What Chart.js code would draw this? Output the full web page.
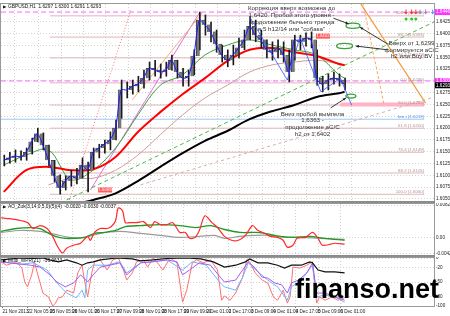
<!DOCTYPE html>
<html>
<head>
<meta charset="utf-8">
<script src="https://cdn.jsdelivr.net/npm/chart.js@4/dist/chart.umd.min.js"></script>
<style>
  html, body { margin: 0; padding: 0; background: #fff; }
  #wrap { position: relative; width: 450px; height: 316px; overflow: hidden; background: #fff; }
  #wrap canvas { position: absolute; left: 0; }
  .sep { position: absolute; left: 0; width: 435px; height: 2px; background: #8c8c8c; }
  #wm { position: absolute; left: 295px; top: 276px; font: bold 27px "Liberation Sans", Arial, sans-serif; line-height: 1; color: #000; }
</style>
</head>
<body>
<div id="wrap">
  <canvas id="main" width="450" height="202" style="top:0"></canvas>
  <canvas id="ao" width="450" height="52" style="top:203px"></canvas>
  <canvas id="wpr" width="450" height="59" style="top:257px"></canvas>
  <div class="sep" style="top:201px"></div>
  <div class="sep" style="top:255px"></div>
  <div id="wm">finanso.net</div>
</div>
<script>
// time axis: H1 bar numbers
const dateTickBars = [1, 19, 35, 51, 67, 83, 99, 115, 131, 147, 163, 179, 195, 211, 227, 243];
const dateTickLabels = ['21 Nov 2013', '22 Nov 05:00', '25 Nov 05:00', '26 Nov 01:00', '26 Nov 17:00',
  '27 Nov 09:00', '28 Nov 01:00', '28 Nov 17:00', '29 Nov 09:00', '2 Dec 01:00', '2 Dec 17:00',
  '3 Dec 09:00', '4 Dec 01:00', '4 Dec 17:00', '5 Dec 09:00', '6 Dec 01:00'];

// price panel, one candle group every 4 bars
const hi = [1.6143,1.6149,1.6154,1.6152,1.6158,1.6179,1.6200,1.6190,1.6164,1.6132,
  1.6101,1.6099,1.6111,1.6115,1.6137,1.6128,1.6158,1.6166,1.6175,1.6192,
  1.6217,1.6302,1.6298,1.6302,1.6310,1.6323,1.6340,1.6344,1.6336,1.6340,
  1.6355,1.6344,1.6327,1.6323,1.6366,1.6446,1.6440,1.6425,1.6408,1.6376,
  1.6366,1.6376,1.6391,1.6408,1.6436,1.6429,1.6408,1.6387,1.6383,1.6387,
  1.6383,1.6366,1.6397,1.6397,1.6402,1.6404,1.6366,1.6310,1.6315,1.6319,
  1.6315,1.6306];
const lo = [1.6120,1.6126,1.6128,1.6132,1.6132,1.6145,1.6171,1.6154,1.6120,1.6086,
  1.6060,1.6069,1.6077,1.6082,1.6094,1.6065,1.6115,1.6137,1.6147,1.6154,
  1.6175,1.6221,1.6264,1.6272,1.6277,1.6285,1.6302,1.6310,1.6306,1.6310,
  1.6323,1.6306,1.6289,1.6289,1.6313,1.6366,1.6397,1.6383,1.6361,1.6340,
  1.6330,1.6334,1.6349,1.6366,1.6387,1.6383,1.6370,1.6349,1.6344,1.6349,
  1.6340,1.6298,1.6344,1.6366,1.6374,1.6370,1.6291,1.6277,1.6281,1.6293,
  1.6289,1.6281];
const close = [1.6132,1.6137,1.6141,1.6139,1.6149,1.6171,1.6188,1.6164,1.6132,1.6099,
  1.6073,1.6088,1.6099,1.6094,1.6122,1.6111,1.6149,1.6158,1.6166,1.6175,
  1.6200,1.6281,1.6281,1.6289,1.6293,1.6306,1.6327,1.6323,1.6319,1.6323,
  1.6344,1.6319,1.6306,1.6310,1.6353,1.6429,1.6419,1.6404,1.6378,1.6355,
  1.6344,1.6355,1.6370,1.6387,1.6416,1.6397,1.6387,1.6366,1.6361,1.6370,
  1.6355,1.6319,1.6387,1.6383,1.6391,1.6387,1.6306,1.6293,1.6302,1.6306,
  1.6302,1.6293];
const candleBars = hi.map((_, i) => i * 4 + 2);

// moving averages
const maBars = [2, 18, 34, 50, 66, 82, 98, 114, 130, 146, 162, 178, 194, 210, 226, 242, 246];
const maRed = [1.6065,1.6111,1.6118,1.6111,1.6113,1.6139,1.6192,1.6234,1.6272,1.6306,1.6342,1.6366,1.6370,1.6361,1.6353,1.6336,1.6334];
const maBlack = [null,null,null,1.6037,1.6048,1.6062,1.6088,1.6118,1.6147,1.6173,1.6194,1.6219,1.6236,1.6249,1.6266,1.6274,1.6277];
const maGreen = [1.6122,1.6143,1.6154,1.6091,1.6111,1.6158,1.6228,1.6291,1.6313,1.6355,1.6376,1.6387,1.6376,1.6366,1.6355,1.6313,1.6306];
const maBrown = [null,null,1.6080,1.6094,1.6094,1.6111,1.6143,1.6186,1.6228,1.6264,1.6291,1.6319,1.6334,1.6340,1.6344,1.6336,1.6334];

// zigzag pivots
const zzBars = [178, 205, 214, 229, 243, 251];
const zzPrices = [1.6436, 1.6302, 1.6393, 1.6277, 1.6306, 1.6249];

// levels
const priceTicks = [1.6425,1.6400,1.6375,1.6350,1.6325,1.6300,1.6275,1.6250,1.6225,1.6200,1.6175,1.6150,1.6125,1.6100,1.6075,1.6050];
const fibPrices = [1.6438, 1.6393, 1.6349, 1.6296, 1.6249, 1.6200, 1.6149, 1.6105, 1.6060];
const fibTags = ['100.0', '88.2', '76.4', '0.0', '50.0', '61.8', '76.4', '88.2', '100.0'];
const fibSpan = [35, 303];
const magentaLevels = [1.6446, 1.6300];
const blueLevel = 1.6219;
const pinkZone = [1.6250, 243, 303];
const lastPrice = 1.6293;

// trend lines: bar1, price1, bar2, price2
const trendGreen = [47, 1.6048, 310, 1.6425];
const trendRose = [100, 1.6080, 310, 1.6266];
const trendRed = [49, 1.6048, 93, 1.6450];
const trendTan = [94, 1.6260, 144, 1.6444];
const trendMagenta = [64, 1.6069, 142, 1.6444];
const trendOrange = [257, 1.6466, 304, 1.6253];
const trendOrangeDash = [259, 1.6466, 274, 1.6253];

// AO panel
const aoTicks = [0.0082, 0, -0.0042];
const aoRedBars = [0,6,11,19,23,28,33,37,40,44,47,52,57,62,64,67,71,76,79,82,84,87,89,92,97,102,107,110,114,119,
  123,128,132,135,139,142,146,151,155,160,165,170,175,180,184,189,193,198,202,205,209,212,218,223,227,230,236,239,246];
const aoRed = [0.0050,0.00475,0.0045,0.00375,0.00225,0.0030,0.00225,0.00025,-0.0020,-0.0040,
  -0.00275,-0.0020,-0.0015,0.00025,-0.00075,0.00125,0.00225,0.00225,0.00275,0.00425,
  0.0075,0.00675,0.00375,0.00375,0.00375,0.0040,0.0025,0.0040,0.00325,0.00325,
  0.00375,0.00125,0.00125,-0.00025,0,0.00175,0.0055,0.00375,0.0025,0.00025,
  -0.00075,-0.00075,0.0005,0.0030,0.00175,0.0010,0.00025,0,-0.00075,-0.0025,
  -0.0020,-0.00025,0,0.00125,-0.00025,-0.0020,-0.00175,-0.0015,-0.00175];
const aoGreenBars = [0,11,21,28,33,39,46,53,60,67,74,82,89,100,114,128,139,150,160,171,182,189,200,210,221,232,246];
const aoGreen = [0.0015,0.00225,0.0025,0.00225,0.00125,0.00025,-0.00025,-0.00025,0,0.0010,0.00125,0.00175,0.00275,
  0.0030,0.00325,0.0030,0.0025,0.0030,0.0020,0.00125,0.00125,0.0010,0.00025,0,0.00025,-0.00025,-0.00075];
const aoGrayBars = [0,14,28,39,49,60,71,85,100,114,128,142,153,160,171,182,193,203,214,228,246];
const aoGray = [0.00125,0.00175,0.0015,0.00075,0,0,0.0010,0.0015,0.0010,0.0005,0,0.00025,0.0005,-0.00025,
  0.00025,0.0005,0.0005,0,0,-0.00025,-0.0005];

// WPR panel
const wprTicks = [0, -20, -50, -80, -100];
const wprBlackBars = [0,14,23,30,35,41,47,54,58,62,66,71,83,94,100,109,119,133,143,152,160,168,175,178,184,191,198,203,208,215,221,223,227,232,239,246];
const wprBlack = [-4,0,-1,0,-4,-8,-4,-10,-15,-10,-8,-4,0,-2,-6,-4,-1,0,-2,-8,-19,-15,-8,-2,-10,-10,-15,-21,-15,-15,-8,-10,-25,-29,-29,-31];
const wprPurpleBars = [0,21,28,35,40,46,52,57,62,66,71,78,85,90,94,100,109,119,126,130,135,142,150,157,160,168,173,177,182,187,191,196,201,205,208,213,219,223,226,232,239,246];
const wprPurple = [-8,-15,-19,-35,-50,-60,-52,-35,-50,-35,-19,-15,-10,-35,-25,-10,-8,-4,-8,-35,-25,-10,-15,-40,-50,-46,-25,-8,-21,-40,-42,-52,-56,-73,-52,-46,-31,-10,-73,-73,-81,-88];
const wprBlueBars = [0,14,23,33,40,47,54,58,60,62,66,76,85,90,100,119,130,137,147,157,160,168,173,177,184,191,198,205,208,215,223,226,232,239,246];
const wprBlue = [-8,-13,-10,-25,-52,-73,-83,-67,-83,-25,-15,-15,-8,-31,-10,-4,-25,-8,-15,-52,-60,-67,-40,-10,-29,-46,-60,-88,-60,-46,-15,-81,-77,-81,-92];
const wprPinkBars = [0,4,11,15,17,19,22,24,26,30,34,37,39,41,44,47,52,55,58,60,62,65,67,71,76,80,84,87,90,94,97,102,105,109,112,116,121,126,130,133,137,140,145,150,155,158,160,164,168,173,176,178,182,187,191,195,198,202,205,207,209,214,219,223,224,226,228,232,237,241,246];
const wprPink = [-8,-15,-8,-21,-50,-60,-35,-8,-31,-73,-81,-100,-94,-83,-81,-67,-73,-31,-15,-50,-81,-31,-8,-4,-25,-4,0,-19,-46,-31,-8,-4,-19,0,-10,-25,0,-10,-92,-67,-10,-4,-10,-4,-25,-88,-79,-88,-73,-40,-4,-8,-31,-46,-52,-81,-88,-67,-94,-81,-19,-21,-15,-8,-40,-94,-81,-88,-81,-88,-83];

const pts = (xs, ys) => xs.map((x, i) => ({ x, y: ys[i] })).filter(p => p.y != null);
const seg = (t) => [{ x: t[0], y: t[1] }, { x: t[2], y: t[3] }];
const FONT = '"Liberation Sans", Arial, sans-serif';
const BAR_MAX = 310;

function timeAxis(showLabels) {
  return {
    type: 'linear', min: 0, max: BAR_MAX, offset: false,
    afterBuildTicks: s => { s.ticks = dateTickBars.map(v => ({ value: v })); },
    grid: { color: '#d2d2d2', drawTicks: showLabels, tickLength: 2, tickColor: '#777' },
    border: { display: false, dash: [1, 2] },
    ticks: {
      display: showLabels, autoSkip: false, maxRotation: 0, align: 'start', padding: 1,
      color: '#222', font: { family: FONT, size: 4.6 },
      callback: (v, i) => dateTickLabels[i]
    },
    afterFit: s => { s.height = showLabels ? 10 : 0; s.paddingLeft = 0; s.paddingRight = 0; }
  };
}
function valueAxis(min, max, ticks, fmt) {
  return {
    type: 'linear', position: 'right', min, max,
    afterBuildTicks: s => { s.ticks = ticks.map(v => ({ value: v })); },
    grid: { color: '#d2d2d2', drawTicks: false },
    border: { display: true, color: '#666', dash: [1, 2] },
    ticks: { color: '#222', padding: 2, font: { family: FONT, size: 4.6 }, callback: fmt },
    afterFit: s => { s.width = 16; s.paddingTop = 0; s.paddingBottom = 0; }
  };
}
const base = {
  responsive: false, animation: false, devicePixelRatio: 1,
  plugins: { legend: { display: false }, tooltip: { enabled: false } },
  elements: { point: { radius: 0 } }
};
function line(data, color, width, extra) {
  return Object.assign({ type: 'line', data, borderColor: color, borderWidth: width, pointRadius: 0, fill: false }, extra || {});
}

const frame = {
  id: 'frame',
  afterDraw(chart) {
    const { ctx, chartArea: a } = chart;
    ctx.save();
    ctx.strokeStyle = '#9a9a9a';
    ctx.lineWidth = 1;
    ctx.strokeRect(a.left - 0.5, a.top - 0.5, a.right - a.left + 1, a.bottom - a.top + 1);
    const title = chart.options.plugins.frame && chart.options.plugins.frame.title;
    if (title) {
      ctx.fillStyle = '#111';
      ctx.font = '4.8px ' + FONT;
      ctx.textBaseline = 'middle';
      ctx.textAlign = 'left';
      ctx.fillText(title, a.left + 7, a.top + 3);
      ctx.beginPath();
      ctx.moveTo(a.left + 2, a.top + 1.5); ctx.lineTo(a.left + 5.5, a.top + 3); ctx.lineTo(a.left + 2, a.top + 4.5);
      ctx.fill();
    }
    ctx.restore();
  }
};

// notes, arrows, marks on the price panel
const notes = [
  { bar: 208, price: 1.6455, step: 7.3, lines: ['Коррекция вверх возможна до', '1,6420. Пробой этого уровня -', 'продолжение бычьего тренда', 'в 5 h12/14 или "собака"'] },
  { bar: 294, price: 1.6380, step: 6.6, lines: ['Вверх от 1,6299', 'формируется aC/C', 'h2 или Buy BV'] },
  { bar: 223, price: 1.6230, step: 6.6, lines: ['Вниз пробой вымпела', '1,6363 -', 'продолжение aC/C', 'h2 от 1,6402'] }
];
const ellipses = [[252, 1.6417, 7, 2.6], [246, 1.6374, 8, 2.6], [250.5, 1.6268, 5, 2]];
const arrows = [[238, 1.6433, 249, 1.6421], [277, 1.6378, 257, 1.6414], [277, 1.6366, 254, 1.6374], [236, 1.6243, 247, 1.6264]];
const priceBoxes = [[230.5, 1.6395, '1.6402'], [74.5, 1.6069, '1.6069']];
const signalBars = [290, 294, 297, 300, 304, 309];
const signalColors = ['#ff3030', '#ff3030', '#ff3030', '#a080c0', '#a080c0', '#4aa0ff'];
const dotBars = [290, 294, 297];

const decor = {
  id: 'decor',
  afterDatasetsDraw(chart) {
    const { ctx, scales: { x, y } } = chart;
    const X = b => x.getPixelForValue(b), Y = p => y.getPixelForValue(p);
    ctx.save();
    // fib labels
    ctx.font = '4.4px ' + FONT;
    ctx.fillStyle = '#b89090';
    ctx.textAlign = 'right';
    ctx.textBaseline = 'bottom';
    fibPrices.forEach((p, i) => ctx.fillText(fibTags[i] + ' (' + p.toFixed(4) + ')', X(fibSpan[1]), Y(p) - 0.5));
    ctx.fillStyle = '#4a8fe0';
    ctx.fillText('bm.t (' + blueLevel.toFixed(4) + ')', X(fibSpan[1]), Y(blueLevel) - 0.5);
    // ellipses
    ctx.strokeStyle = '#3ca03c';
    ctx.lineWidth = 1.3;
    ellipses.forEach(e => { ctx.beginPath(); ctx.ellipse(X(e[0]), Y(e[1]), e[2], e[3], 0, 0, Math.PI * 2); ctx.stroke(); });
    // arrows
    ctx.strokeStyle = '#222';
    ctx.fillStyle = '#222';
    ctx.lineWidth = 0.9;
    arrows.forEach(r => {
      const x1 = X(r[0]), y1 = Y(r[1]), x2 = X(r[2]), y2 = Y(r[3]);
      ctx.beginPath(); ctx.moveTo(x1, y1); ctx.lineTo(x2, y2); ctx.stroke();
      const ang = Math.atan2(y2 - y1, x2 - x1);
      ctx.beginPath();
      ctx.moveTo(x2, y2);
      ctx.lineTo(x2 - 3.5 * Math.cos(ang - 0.4), y2 - 3.5 * Math.sin(ang - 0.4));
      ctx.lineTo(x2 - 3.5 * Math.cos(ang + 0.4), y2 - 3.5 * Math.sin(ang + 0.4));
      ctx.fill();
    });
    // red price boxes
    ctx.font = '4.3px ' + FONT;
    ctx.textAlign = 'center';
    ctx.textBaseline = 'middle';
    priceBoxes.forEach(b => {
      ctx.fillStyle = '#ff5a5a';
      ctx.fillRect(X(b[0]) - 7, Y(b[1]) - 2.5, 14, 5);
      ctx.fillStyle = '#fff';
      ctx.fillText(b[2], X(b[0]), Y(b[1]));
    });
    // notes
    ctx.fillStyle = '#333';
    ctx.font = '6.2px ' + FONT;
    notes.forEach(n => n.lines.forEach((t, i) => ctx.fillText(t, X(n.bar), Y(n.price) + i * n.step)));
    // signal arrows and dots
    signalBars.forEach((b, i) => {
      const cx = X(b), cy = Y(magentaLevels[0]);
      ctx.strokeStyle = signalColors[i]; ctx.fillStyle = signalColors[i]; ctx.lineWidth = 1;
      ctx.beginPath(); ctx.moveTo(cx, cy - 2.5); ctx.lineTo(cx, cy + 1); ctx.stroke();
      ctx.beginPath(); ctx.moveTo(cx - 1.8, cy); ctx.lineTo(cx + 1.8, cy); ctx.lineTo(cx, cy + 2.5); ctx.fill();
    });
    ctx.fillStyle = '#22cc22';
    dotBars.forEach(b => { ctx.beginPath(); ctx.arc(X(b), Y(magentaLevels[0]) + 7, 1.5, 0, Math.PI * 2); ctx.fill(); });
    ctx.restore();
  },
  afterDraw(chart) {
    const { ctx, chartArea: a, scales: { y } } = chart;
    ctx.save();
    ctx.font = '4.6px ' + FONT;
    ctx.textAlign = 'left';
    ctx.textBaseline = 'middle';
    const badge = (p, bg, dy) => {
      const cy = y.getPixelForValue(p) + dy;
      ctx.fillStyle = bg;
      ctx.fillRect(a.right + 1, cy - 3, 450 - a.right, 6);
      ctx.fillStyle = '#fff';
      ctx.fillText(p.toFixed(4), a.right + 2, cy);
    };
    badge(magentaLevels[0], '#ff33ff', 0);
    badge(magentaLevels[1], '#ff33ff', 0);
    badge(lastPrice, '#000', 1);
    ctx.restore();
  }
};

const mainSets = [];
fibPrices.forEach(p => mainSets.push(line(seg([fibSpan[0], p, fibSpan[1], p]), '#dcb8b8', 1, { order: 30 })));
magentaLevels.forEach(p => mainSets.push(line(seg([0, p, BAR_MAX, p]), '#ff66ff', 1, { order: 29, borderDash: [5, 3] })));
mainSets.push(line(seg([0, blueLevel, fibSpan[1], blueLevel]), '#9cc8f5', 1, { order: 29 }));
mainSets.push(line(seg([pinkZone[1], pinkZone[0], pinkZone[2], pinkZone[0]]), '#ffb3c4', 4, { order: 28 }));
mainSets.push(line(seg(trendGreen), '#4cb84c', 1, { order: 25, borderDash: [4, 3] }));
mainSets.push(line(seg(trendRose), '#d8aaaa', 1, { order: 25, borderDash: [3, 3] }));
mainSets.push(line(seg(trendRed), '#ff7070', 1, { order: 25, borderDash: [1, 2] }));
mainSets.push(line(seg(trendTan), '#e8b27a', 1, { order: 25 }));
mainSets.push(line(seg(trendMagenta), '#e070e0', 1, { order: 25 }));
mainSets.push(line(seg(trendOrange), '#f29a3c', 1.2, { order: 25 }));
mainSets.push(line(seg(trendOrangeDash), '#f5a860', 1, { order: 25, borderDash: [3, 2] }));
mainSets.push(line(pts(maBars, maBrown), '#cf9d9d', 1, { order: 20, tension: 0.35 }));
mainSets.push(line(pts(maBars, maBlack), '#000', 2, { order: 12, tension: 0.35 }));
mainSets.push(line(pts(maBars, maGreen), '#40a040', 1, { order: 19, tension: 0.35 }));
mainSets.push(line(pts(maBars, maRed), '#ff0000', 2, { order: 18, tension: 0.35 }));
// candle wicks (low-high) and bodies (previous close to close)
mainSets.push({ type: 'bar', data: hi.map((h, i) => ({ x: candleBars[i], y: [lo[i], h] })), backgroundColor: '#1a1a1a', barThickness: 1, order: 8 });
mainSets.push({ type: 'bar', data: close.map((c, i) => ({ x: candleBars[i], y: [i ? close[i - 1] : c, c] })), backgroundColor: '#7a7a7a', borderColor: '#222', borderWidth: 0.5, barThickness: 3, order: 7 });
mainSets.push(line(pts(candleBars, close), '#1a1aff', 1, { order: 5, tension: 0.3 }));
mainSets.push(line(pts(zzBars, zzPrices), '#3050ff', 0.8, { order: 4 }));

new Chart(document.getElementById('main'), {
  type: 'line',
  data: { datasets: mainSets },
  options: Object.assign({}, base, {
    layout: { padding: { left: 1, right: 0, top: 4, bottom: 1 } },
    plugins: Object.assign({}, base.plugins, { frame: { title: 'GBPUSD,H1  1.6297 1.6300 1.6291 1.6293' } }),
    scales: { x: timeAxis(false), y: valueAxis(1.60457, 1.64631, priceTicks, v => v.toFixed(4)) }
  }),
  plugins: [frame, decor]
});

new Chart(document.getElementById('ao'), {
  type: 'line',
  data: { datasets: [
    line(pts(aoRedBars, aoRed), '#ff2a2a', 1.2, { order: 1, tension: 0.3 }),
    line(pts(aoGreenBars, aoGreen), '#229922', 1.3, { order: 2, tension: 0.3 }),
    line(pts(aoGrayBars, aoGray), '#9a9a9a', 1.2, { order: 3, tension: 0.3 })
  ] },
  options: Object.assign({}, base, {
    layout: { padding: { left: 1, right: 0, top: 1, bottom: 0 } },
    plugins: Object.assign({}, base.plugins, { frame: { title: 'AO_Zuk(3,14,0,5,0)(5)(4)  -0.0020 -0.0030 -0.0037' } }),
    scales: { x: timeAxis(false), y: valueAxis(-0.0045, 0.0085, aoTicks, v => v === 0 ? '0.00' : v.toFixed(4)) }
  }),
  plugins: [frame]
});

new Chart(document.getElementById('wpr'), {
  type: 'line',
  data: { datasets: [
    line(pts(wprBlackBars, wprBlack), '#111', 1.2, { order: 1 }),
    line(pts(wprPurpleBars, wprPurple), '#a35cf0', 1, { order: 2 }),
    line(pts(wprBlueBars, wprBlue), '#6fb6ff', 1, { order: 3 }),
    line(pts(wprPinkBars, wprPink), '#ff7070', 1, { order: 4 })
  ] },
  options: Object.assign({}, base, {
    layout: { padding: { left: 1, right: 0, top: 1, bottom: 0 } },
    plugins: Object.assign({}, base.plugins, { frame: { title: 'Multi_WPR(21)  -36.0633' } }),
    scales: { x: timeAxis(true), y: valueAxis(-100, 0, wprTicks, v => String(v)) }
  }),
  plugins: [frame]
});
</script>
</body>
</html>
